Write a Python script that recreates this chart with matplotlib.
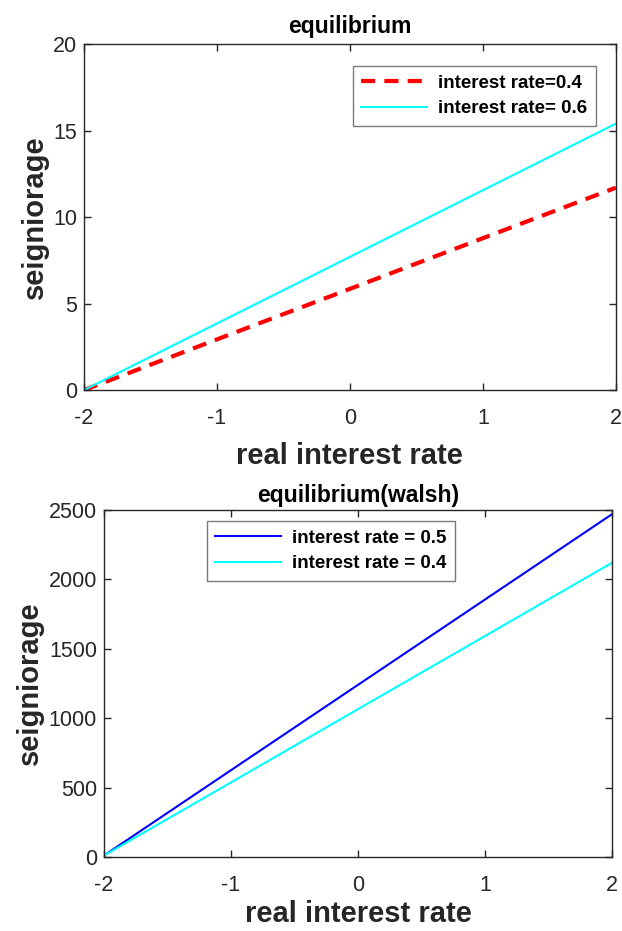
import matplotlib
matplotlib.use("Agg")
import matplotlib.pyplot as plt

plt.rcParams["font.family"] = ["Liberation Sans", "DejaVu Sans"]
plt.rcParams["axes.unicode_minus"] = False

# data
x_rate = [-2, -1, 0, 1, 2]
seig_04 = [0.0, 2.93, 5.85, 8.78, 11.7]
seig_06 = [0.0, 3.85, 7.7, 11.55, 15.4]
walsh_05 = [10, 625, 1240, 1855, 2470]
walsh_04 = [10, 537, 1065, 1592, 2120]

x_ticks = [-2, -1, 0, 1, 2]
top_yticks = [0, 5, 10, 15, 20]
bot_yticks = [0, 500, 1000, 1500, 2000, 2500]

INK = "#262626"

fig = plt.figure(figsize=(6.22, 9.31), dpi=100, facecolor="white")
ax1 = fig.add_axes([0.135, 0.581, 0.855, 0.3716])
ax2 = fig.add_axes([0.167, 0.0795, 0.817, 0.3727])


def style(ax, yticks, ylim):
    ax.set_xlim(-2, 2)
    ax.set_ylim(*ylim)
    ax.set_xticks(x_ticks)
    ax.set_yticks(yticks)
    ax.tick_params(direction="in", top=True, right=True, length=5,
                   width=1, colors=INK, labelsize=15.5)
    ax.tick_params(axis="x", pad=13)
    ax.tick_params(axis="y", pad=5)
    for s in ax.spines.values():
        s.set_color(INK)
        s.set_linewidth(1)


def legend(ax, **kw):
    leg = ax.legend(prop={"weight": "bold", "size": 13.5}, fancybox=False,
                    edgecolor="#7a7a7a", framealpha=1, handlelength=3.5,
                    borderpad=0.45, labelspacing=0.45, handletextpad=0.6,
                    borderaxespad=0, **kw)
    leg.get_frame().set_linewidth(1)
    return leg


# top panel
ax1.plot(x_rate, seig_04, color="red", linestyle=(0, (3.4, 2.2)), linewidth=3,
         label="interest rate=0.4")
ax1.plot(x_rate, seig_06, color="cyan", linewidth=1.5, label="interest rate= 0.6")
style(ax1, top_yticks, (0, 20))
ax1.set_title("equilibrium", fontsize=16.5, fontweight="bold", pad=8)
ax1.set_xlabel("real interest rate", fontsize=21, fontweight="bold", color=INK, labelpad=9)
ax1.set_ylabel("seigniorage", fontsize=21, fontweight="bold", color=INK, labelpad=3)
legend(ax1, loc="upper right", bbox_to_anchor=(0.962, 0.936))

# bottom panel
ax2.plot(x_rate, walsh_05, color="#0000ff", linewidth=1.5, label="interest rate = 0.5")
ax2.plot(x_rate, walsh_04, color="cyan", linewidth=1.5, label="interest rate = 0.4")
style(ax2, bot_yticks, (0, 2500))
ax2.set_title("equilibrium(walsh)", fontsize=16.5, fontweight="bold", pad=6)
ax2.set_xlabel("real interest rate", fontsize=21, fontweight="bold", color=INK, labelpad=3)
ax2.set_ylabel("seigniorage", fontsize=21, fontweight="bold", color=INK, labelpad=3)
legend(ax2, loc="upper left", bbox_to_anchor=(0.203, 0.968))

fig.savefig("out.png", dpi=100, facecolor="white")
